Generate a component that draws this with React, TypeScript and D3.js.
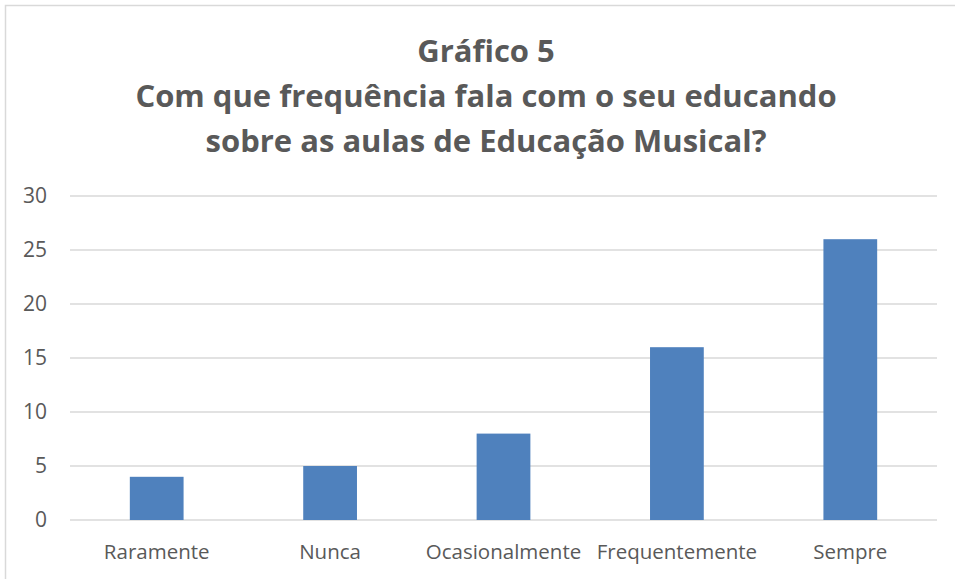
import React, { useEffect, useRef } from "react";
import * as d3 from "d3";

const categories = ["Raramente", "Nunca", "Ocasionalmente", "Frequentemente", "Sempre"];
const values = [4, 5, 8, 16, 26];
const yTicks = [0, 5, 10, 15, 20, 25, 30];
const titleLines = [
  "Gráfico 5",
  "Com que frequência fala com o seu educando",
  "sobre as aulas de Educação Musical?",
];

const App = () => {
  const svgRef = useRef<SVGSVGElement>(null);

  useEffect(() => {
    const svg = d3.select(svgRef.current);
    svg.selectAll("*").remove();

    const width = 955,
      height = 579;
    const font = "'Open Sans', sans-serif";
    const textColor = "#595959";

    // chart frame (right / bottom edges fall outside the picture)
    svg
      .append("rect")
      .attr("x", 5.5)
      .attr("y", 5.5)
      .attr("width", width + 20)
      .attr("height", height + 20)
      .attr("fill", "#fff")
      .attr("stroke", "#d9d9d9")
      .attr("stroke-width", 1.5);

    const x = d3.scaleBand().domain(categories).range([70, 937]).paddingInner(0.69).paddingOuter(0.345);
    const y = d3.scaleLinear().domain([0, 30]).range([520, 196]);

    // title
    svg
      .selectAll("text.title")
      .data(titleLines)
      .join("text")
      .attr("class", "title")
      .attr("x", 486)
      .attr("y", (d, i) => 62 + i * 45)
      .attr("text-anchor", "middle")
      .attr("font-family", font)
      .attr("font-weight", "bold")
      .attr("font-size", 31)
      .attr("fill", textColor)
      .text((d) => d);

    // gridlines
    svg
      .selectAll("line.grid")
      .data(yTicks)
      .join("line")
      .attr("class", "grid")
      .attr("x1", 70)
      .attr("x2", 937)
      .attr("y1", (d) => y(d))
      .attr("y2", (d) => y(d))
      .attr("stroke", "#d9d9d9")
      .attr("stroke-width", 1.3);

    // y tick labels
    svg
      .selectAll("text.ytick")
      .data(yTicks)
      .join("text")
      .attr("class", "ytick")
      .attr("x", 47)
      .attr("y", (d) => y(d))
      .attr("dy", "0.35em")
      .attr("text-anchor", "end")
      .attr("font-family", font)
      .attr("font-size", 21)
      .attr("fill", textColor)
      .text((d) => d);

    // bars
    svg
      .selectAll("rect.bar")
      .data(values)
      .join("rect")
      .attr("class", "bar")
      .attr("x", (d, i) => x(categories[i])!)
      .attr("width", x.bandwidth())
      .attr("y", (d) => y(d))
      .attr("height", (d) => y(0) - y(d))
      .attr("fill", "#4f81bd");

    // category labels
    svg
      .selectAll("text.xtick")
      .data(categories)
      .join("text")
      .attr("class", "xtick")
      .attr("x", (d) => x(d)! + x.bandwidth() / 2)
      .attr("y", 559)
      .attr("text-anchor", "middle")
      .attr("font-family", font)
      .attr("font-size", 20.5)
      .attr("fill", textColor)
      .text((d) => d);
  }, []);

  return (
    <svg
      ref={svgRef}
      width={955}
      height={579}
      style={{ position: "fixed", left: 0, top: 0, display: "block" }}
    />
  );
};

export default App;
